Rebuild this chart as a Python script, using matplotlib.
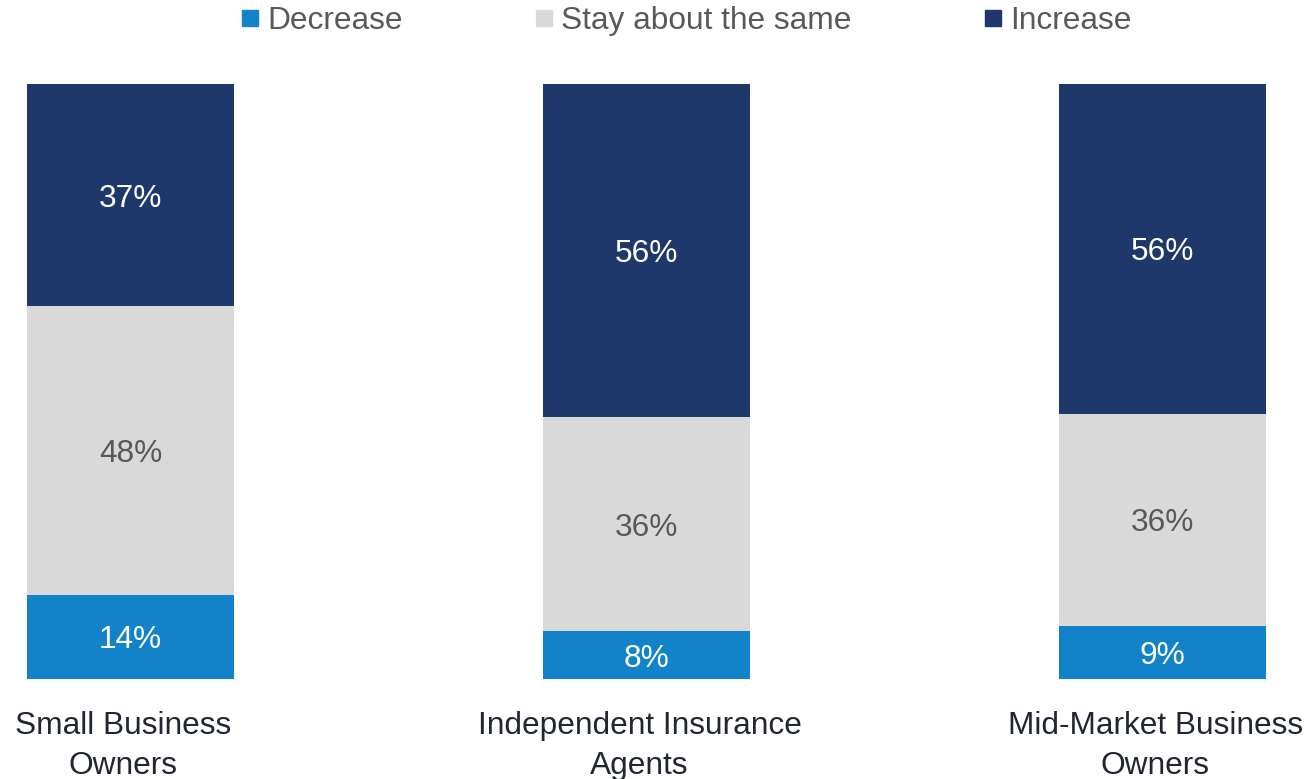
import matplotlib
matplotlib.use("Agg")
import matplotlib.pyplot as plt
import matplotlib.transforms as mtransforms
from matplotlib.lines import Line2D
import numpy as np

plt.rcParams['font.family'] = ['Liberation Sans', 'DejaVu Sans']

categories = ["Small Business\nOwners", "Independent Insurance\nAgents", "Mid-Market Business\nOwners"]
series_names = ["Decrease", "Stay about the same", "Increase"]
decrease = [14, 8, 9]
stay = [48, 36, 36]
increase = [37, 56, 56]

colors = ["#1283C8", "#D9D9D9", "#1F386B"]
text_colors = ["white", "#595959", "white"]

fig = plt.figure(figsize=(13.08, 7.79), dpi=100)
ax = fig.add_axes([0, 1 - 679 / 779, 1, (679 - 84) / 779])

data = np.array([decrease, stay, increase], dtype=float)
totals = data.sum(axis=0)
pct = data / totals * 100

x = np.arange(len(categories))
bottom = np.zeros(len(categories))
for i, name in enumerate(series_names):
    bars = ax.bar(x, pct[i], bottom=bottom, width=0.401, color=colors[i], label=name, zorder=2)
    for j, b in enumerate(bars):
        ax.text(b.get_x() + b.get_width() / 2, bottom[j] + pct[i][j] / 2, f"{int(data[i][j])}%",
                ha="center", va="center_baseline", color=text_colors[i], fontsize=22.8)
    bottom += pct[i]

ax.set_xlim(-130.5 / 516, (1308 - 130.5) / 516)
ax.set_ylim(0, 100)
ax.set_xticks(x)
ax.set_xticklabels(categories, fontsize=22.8, color="#222631", linespacing=1.42)
ax.tick_params(axis='x', length=0, pad=23)
offset = mtransforms.ScaledTranslation(-7 / 100, 0, fig.dpi_scale_trans)
for lbl in ax.get_xticklabels():
    lbl.set_transform(lbl.get_transform() + offset)
ax.set_yticks([])
for s in ax.spines.values():
    s.set_visible(False)

handles = [Line2D([0], [0], marker='s', linestyle='none', markersize=11, color=c) for c in colors]
fig.legend(handles, series_names, loc="center", bbox_to_anchor=(686 / 1308, 1 - 21 / 779), ncol=3,
           frameon=False, fontsize=22.8, labelcolor="#595959", columnspacing=4.15,
           handlelength=0.6, handletextpad=0.25, borderaxespad=0, borderpad=0)

fig.savefig("out.png", dpi=100)
